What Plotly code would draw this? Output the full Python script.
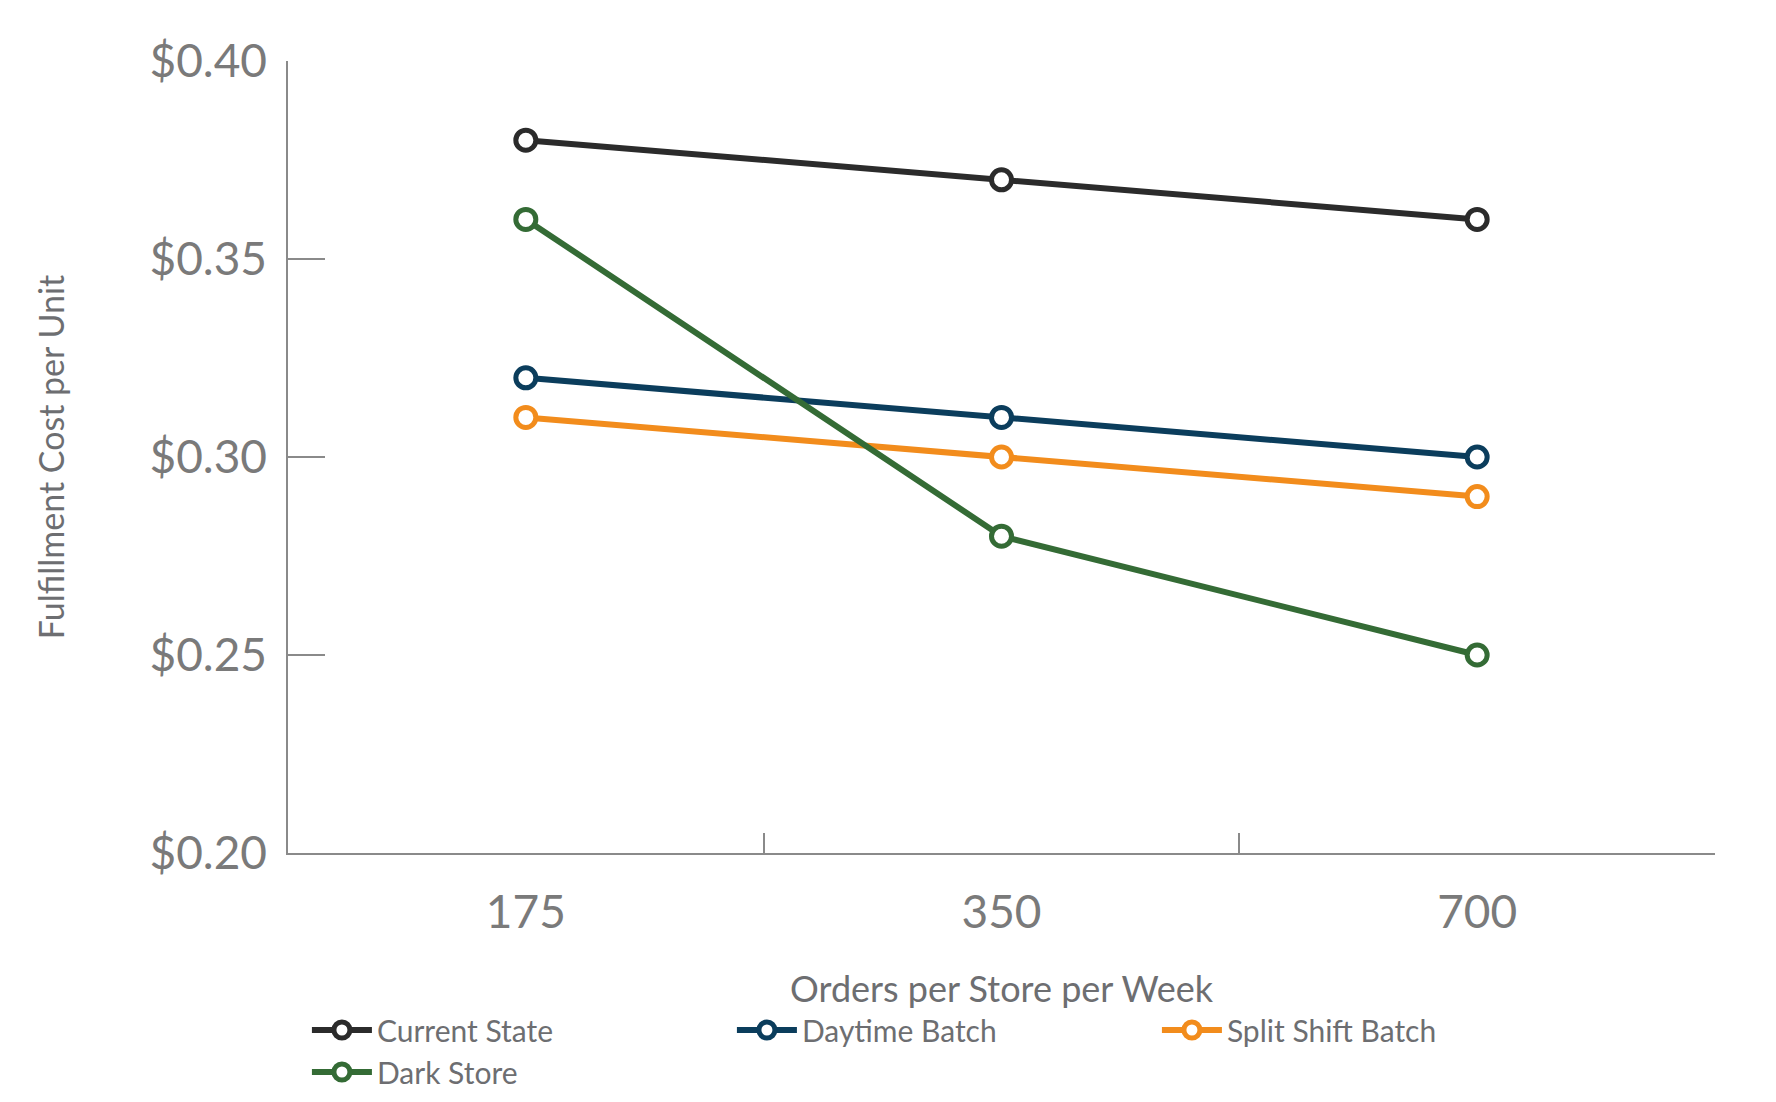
import plotly.graph_objects as go

categories = ["175", "350", "700"]
series_names = ["Current State", "Daytime Batch", "Split Shift Batch", "Dark Store"]
current_state = [0.38, 0.37, 0.36]
daytime_batch = [0.32, 0.31, 0.30]
split_shift = [0.31, 0.30, 0.29]
dark_store = [0.36, 0.28, 0.25]
colors = ["#2b2b2b", "#0b3d5c", "#f28c1c", "#346b35"]
y_ticks = [0.20, 0.25, 0.30, 0.35, 0.40]

fig = go.Figure()
for name, vals, c in zip(series_names, [current_state, daytime_batch, split_shift, dark_store], colors):
    fig.add_trace(go.Scatter(
        x=categories, y=vals, name=name, mode="lines+markers",
        line=dict(color=c, width=6),
        marker=dict(symbol="circle", size=20, color="white", line=dict(color=c, width=5)),
    ))

fig.update_layout(
    width=1776, height=1102,
    paper_bgcolor="white", plot_bgcolor="white",
    margin=dict(l=280, r=69, t=53, b=212),
    font=dict(family="Lato", color="#6d6e71"),
    showlegend=True,
    legend=dict(orientation="h", x=0.46, xanchor="center", y=-0.25, yanchor="middle",
                font=dict(size=30, color="#6d6e71"), itemwidth=60,
                entrywidth=350, entrywidthmode="pixels"),
    xaxis=dict(type="category", range=[-0.5, 2.5], tickson="boundaries",
               ticks="inside", ticklen=20, tickcolor="#8a8a8a", tickwidth=1.5,
               showline=True, linecolor="#8a8a8a", linewidth=1.5,
               showgrid=False, tickfont=dict(size=46, color="#7a7a7a"),
               ticklabelstandoff=18,
               title=dict(text="Orders per Store per Week", font=dict(size=36, color="#6d6e71"), standoff=40)),
    yaxis=dict(range=[0.20, 0.40], tickvals=y_ticks,
               ticktext=[f"${v:.2f}" for v in y_ticks],
               ticks="inside", ticklen=37, tickcolor="#8a8a8a", tickwidth=1.5,
               showline=True, linecolor="#8a8a8a", linewidth=1.5,
               showgrid=False, zeroline=False, tickfont=dict(size=46, color="#7a7a7a"),
               ticklabelstandoff=10,
               title=dict(text="Fulfillment Cost per Unit", font=dict(size=34, color="#6d6e71"), standoff=75)),
)
fig.write_html("out.html")
